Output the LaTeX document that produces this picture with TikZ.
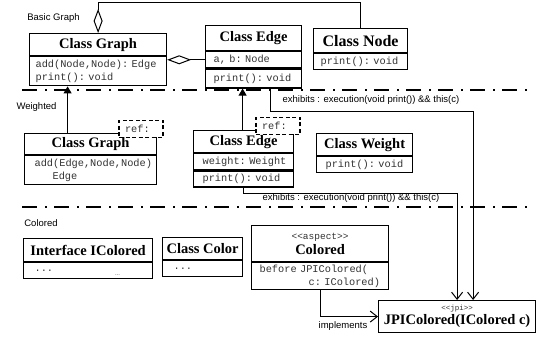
\documentclass[tikz,border=0pt]{standalone}
\usepackage{fontspec}
\setmainfont{Liberation Sans}
\setmonofont{Liberation Mono}
\newfontfamily\ttlfamily{Liberation Serif}
\usetikzlibrary{arrows.meta}
\definecolor{monogray}{gray}{0.2}
\begin{document}
\begin{tikzpicture}[x=1pt,y=-1pt,
  box/.style={draw, line width=1.2pt, fill=white, inner sep=0pt, anchor=north west},
  ttl/.style={box, font=\ttlfamily\bfseries\fontsize{14.5}{16}\selectfont},
  cmp/.style={box, align=left, inner xsep=8pt, text=monogray, font=\ttfamily\fontsize{10.3}{13}\selectfont},
  refbox/.style={draw, line width=1.1pt, dash pattern=on 4pt off 2.5pt, fill=white, inner sep=0pt, text=monogray,
     minimum width=44pt, minimum height=17pt, font=\ttfamily\fontsize{10.3}{12}\selectfont},
  lbl/.style={font=\fontsize{9.5}{11}\selectfont, inner sep=0pt},
  conn/.style={line width=1pt},
  sepline/.style={line width=1.5pt, dash pattern=on 15pt off 8pt on 2pt off 7pt},
  diam/.style={-{Diamond[open,length=24pt,width=9pt,line width=1pt]}},
  inh/.style={-{Triangle[length=7pt,width=8pt]}},
  barb/.style={-{Straight Barb[length=7pt,width=11pt,line width=1pt]}}
]
\useasboundingbox (0,0) rectangle (541,342);

% separators
\draw[sepline] (22,90) -- (528,90);
\draw[sepline] (22,207) -- (528,207);

% section labels
\node[lbl] (lbasic) at (53.5,18) {Basic Graph};
\node[lbl] (lweight) at (36.5,107) {Weighted};
\node[lbl] (lcolor) at (41,223) {Colored};

% Basic Graph
\node[ttl, minimum width=137pt, minimum height=22pt] (g1t) at (29,33) {Class Graph};
\node[cmp, inner xsep=6pt, text width=125pt, minimum height=29pt] (g1c) at (g1t.south west) {add(Node,Node):~Edge\\print():~void};

\node[ttl, minimum width=96pt, minimum height=25pt] (e1t) at (205,25) {Class Edge};
\node[cmp, text width=80pt, minimum height=16pt] (e1a) at (e1t.south west) {a,~b:~Node};
\node[cmp, text width=80pt, minimum height=19pt] (e1p) at (e1a.south west) {print():~void};

\node[ttl, minimum width=94pt, minimum height=24pt, font=\ttlfamily\bfseries\fontsize{16}{18}\selectfont] (n1t) at (313,28) {Class Node};
\node[cmp, inner xsep=7pt, text width=80pt, minimum height=16pt] (n1c) at (n1t.south west) {print():~void};

% Weighted
\node[ttl, minimum width=132pt, minimum height=21pt] (g2t) at (24,133) {Class Graph};
\node[cmp, inner xsep=10pt, text width=112pt, minimum height=29pt] (g2c) at (g2t.south west) {add(Edge,Node,Node)\\\hspace*{18pt}Edge};
\node[refbox, text width=32pt, align=left, inner xsep=6pt] (g2r) at (141,129) {ref:};

\node[ttl, minimum width=100pt, minimum height=22pt] (e2t) at (193,130) {\raisebox{-1.5pt}{Class Edge}};
\node[cmp, inner xsep=9pt, text width=82pt, minimum height=16pt] (e2w) at (e2t.south west) {weight:~Weight};
\node[cmp, inner xsep=9pt, text width=82pt, minimum height=16pt] (e2p) at (e2w.south west) {print():~void};
\node[refbox, text width=32pt, align=left, inner xsep=6pt] (e2r) at (278,126) {ref:};

\node[ttl, minimum width=96pt, minimum height=22pt] (w1t) at (316,133) {Class Weight};
\node[cmp, inner xsep=9pt, text width=78pt, minimum height=16pt] (w1c) at (w1t.south west) {print():~void};

% Colored
\node[ttl, minimum width=129pt, minimum height=23pt] (ict) at (23,238) {Interface IColored};
\node[cmp, inner xsep=11pt, text width=107pt, minimum height=16pt] (icc) at (ict.south west) {...};
\node[font=\fontsize{6}{7}\selectfont, text=black!70, inner sep=0pt] (icd) at (117.5,275) {...};

\node[ttl, minimum width=80pt, minimum height=22pt] (cct) at (162,237) {Class Color};
\node[cmp, inner xsep=11pt, text width=58pt, minimum height=16pt] (ccc) at (cct.south west) {...};

\node[ttl, minimum width=137pt, minimum height=36pt, align=center] (cat) at (251,225)
  {{\ttfamily\mdseries\color{monogray}\fontsize{9.5}{12}\selectfont <<aspect>>}\\[-1pt]Colored};
\node[cmp, text width=121pt, minimum height=27pt] (cac) at (cat.south west) {before~JPIColored(\\\hspace*{49pt}c:~IColored)};

\node[ttl, minimum width=157pt, minimum height=32pt, align=center] (jpi) at (378,300)
  {{\ttfamily\mdseries\color{monogray}\fontsize{7.5}{9}\selectfont <<jpi>>}\\[-2pt]JPIColored(IColored c)};

% connectors
\draw[conn, diam] (n1t.north) -- ++(0,-25) -| (g1t.north);
\draw[conn, diam] (e1a.west) -- (e1a.west -| g1c.east);

\coordinate (g2in) at ([xshift=-23pt]g2t.north);
\draw[conn, inh] (g2in) -- (g2in |- g1c.south);
\coordinate (e2in) at ([xshift=-1pt]e2t.north);
\draw[conn, inh] (e2in) -- (e2in |- e1p.south);

\coordinate (x1s) at ([xshift=17pt]e1p.south);
\coordinate (x1e) at ([xshift=16pt]jpi.north);
\draw[conn, barb] (x1s) -- ++(0,23) -| (x1e);
\node[lbl] (x1l) at (371,100) {exhibits : execution(void print()) \&\& this(c)};

\draw[conn, barb] (e2p.south) -- ++(0,6) -| (jpi.north);
\node[lbl] (x2l) at (351,198) {exhibits : execution(void print()) \&\& this(c)};

\draw[conn, barb] (cac.south) |- (jpi.west);
\node[lbl] (impl) at (343,326) {implements};
\end{tikzpicture}
\end{document}
